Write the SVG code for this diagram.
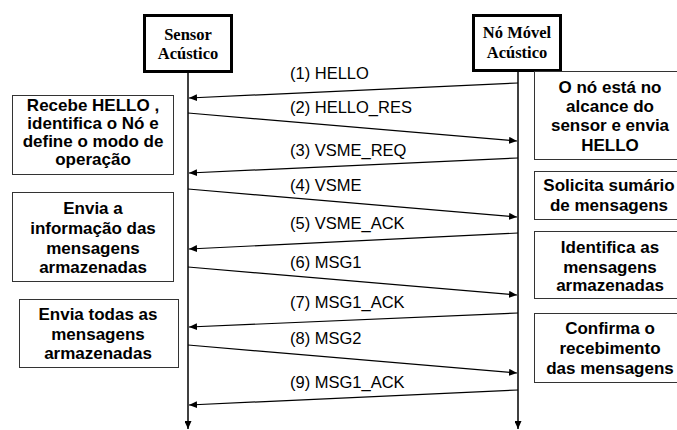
<svg xmlns="http://www.w3.org/2000/svg" width="677" height="430" viewBox="0 0 677 430">
<defs>
<marker id="ah" markerWidth="9" markerHeight="7" refX="8" refY="3.5" orient="auto" markerUnits="userSpaceOnUse">
<path d="M0,0 L8,3.5 L0,7 z" fill="#000"/>
</marker>
<style>
.hdr{fill:#fff;stroke:#000;stroke-width:3}
.box{fill:#fff;stroke:#333;stroke-width:1}
.ht{font-family:"Liberation Serif",serif;font-weight:bold;font-size:16.5px;text-anchor:middle;fill:#000}
.bt{font-family:"Liberation Sans",Arial,sans-serif;font-weight:bold;font-size:17px;text-anchor:middle;fill:#000}
.lbl{font-family:"Liberation Sans",Arial,sans-serif;font-size:16.5px;fill:#000}
.msg{stroke:#000;stroke-width:1.2;fill:none;marker-end:url(#ah)}
.life{stroke:#000;stroke-width:1.5;fill:none;marker-end:url(#ah)}
</style>
</defs>
<rect width="677" height="430" fill="#fff"/>

<g id="connectors">
<line class="life" x1="188" y1="73" x2="188" y2="429"/>
<line class="life" x1="518" y1="72" x2="518" y2="429"/>
<line class="msg" x1="518" y1="83" x2="189" y2="98"/>
<line class="msg" x1="188" y1="113" x2="517" y2="141"/>
<line class="msg" x1="518" y1="158" x2="189" y2="173"/>
<line class="msg" x1="188" y1="189" x2="517" y2="217"/>
<line class="msg" x1="518" y1="233" x2="189" y2="249"/>
<line class="msg" x1="188" y1="267" x2="517" y2="295"/>
<line class="msg" x1="518" y1="313" x2="189" y2="327"/>
<line class="msg" x1="188" y1="345" x2="517" y2="373"/>
<line class="msg" x1="518" y1="390" x2="189" y2="405"/>
<text class="lbl" x="290" y="79">(1) HELLO</text>
<text class="lbl" x="290" y="113">(2) HELLO_RES</text>
<text class="lbl" x="290" y="156">(3) VSME_REQ</text>
<text class="lbl" x="290" y="191">(4) VSME</text>
<text class="lbl" x="290" y="229">(5) VSME_ACK</text>
<text class="lbl" x="290" y="268">(6) MSG1</text>
<text class="lbl" x="290" y="308">(7) MSG1_ACK</text>
<text class="lbl" x="290" y="344">(8) MSG2</text>
<text class="lbl" x="290" y="388">(9) MSG1_ACK</text>
</g>

<g id="sensor">
<rect class="hdr" x="144.5" y="15.5" width="87" height="56"/>
<text class="ht" x="188" y="40">Sensor</text>
<text class="ht" x="188" y="59">Acústico</text>
</g>

<g id="no-movel">
<rect class="hdr" x="473.5" y="15.5" width="87" height="55"/>
<text class="ht" x="517" y="38">Nó Móvel</text>
<text class="ht" x="517" y="58">Acústico</text>
</g>

<g id="recebe-hello">
<rect class="box" x="12.5" y="95.5" width="161" height="79"/>
<text class="bt" x="93" y="111">Recebe HELLO ,</text>
<text class="bt" x="93" y="129">identifica o Nó e</text>
<text class="bt" x="93" y="147">define o modo de</text>
<text class="bt" x="93" y="165">operação</text>
</g>

<g id="envia-informacao">
<rect class="box" x="12.5" y="192.5" width="161" height="89"/>
<text class="bt" x="93" y="214">Envia a</text>
<text class="bt" x="93" y="234">informação das</text>
<text class="bt" x="93" y="254">mensagens</text>
<text class="bt" x="93" y="273">armazenadas</text>
</g>

<g id="envia-todas">
<rect class="box" x="19.5" y="299.5" width="159" height="68"/>
<text class="bt" x="98" y="320">Envia todas as</text>
<text class="bt" x="98" y="340">mensagens</text>
<text class="bt" x="98" y="359">armazenadas</text>
</g>

<g id="no-alcance">
<rect class="box" x="534.5" y="71.5" width="152" height="88"/>
<text class="bt" x="610" y="93">O nó está no</text>
<text class="bt" x="610" y="112">alcance do</text>
<text class="bt" x="610" y="131">sensor e envia</text>
<text class="bt" x="610" y="151">HELLO</text>
</g>

<g id="solicita">
<rect class="box" x="534.5" y="171.5" width="152" height="48"/>
<text class="bt" x="609" y="191">Solicita sumário</text>
<text class="bt" x="609" y="211">de mensagens</text>
</g>

<g id="identifica">
<rect class="box" x="534.5" y="231.5" width="152" height="67"/>
<text class="bt" x="610" y="253">Identifica as</text>
<text class="bt" x="610" y="273">mensagens</text>
<text class="bt" x="610" y="291">armazenadas</text>
</g>

<g id="confirma">
<rect class="box" x="534.5" y="313.5" width="152" height="69"/>
<text class="bt" x="610" y="334">Confirma o</text>
<text class="bt" x="610" y="354">recebimento</text>
<text class="bt" x="610" y="374">das mensagens</text>
</g>
</svg>
